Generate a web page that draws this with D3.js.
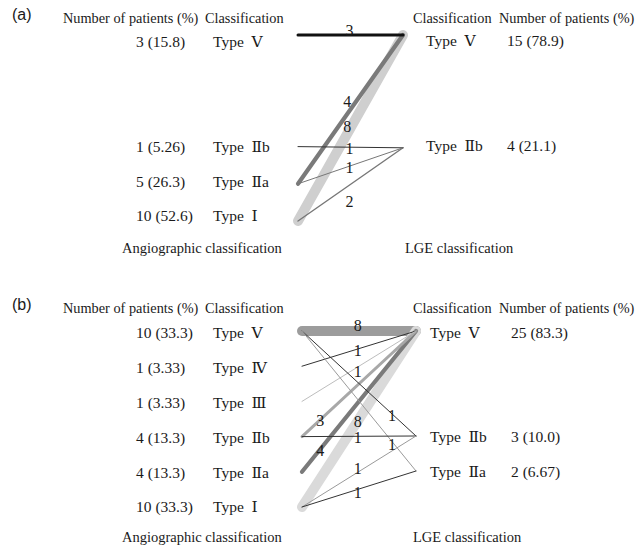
<!DOCTYPE html>
<html>
<head>
<meta charset="utf-8">
<script src="https://cdn.jsdelivr.net/npm/d3@7"></script>
<style>
  html, body { margin: 0; padding: 0; background: #fff; }
  svg { display: block; }
  .serif { font-family: "Liberation Serif", "Times New Roman", "DejaVu Serif", serif; fill: #1a1a1a; }
  .sans { font-family: "Liberation Sans", Arial, sans-serif; fill: #1a1a1a; }
</style>
</head>
<body>
<svg id="chart" width="639" height="548"></svg>
<script>
// Row order shared by both classifications
const typeOrder = ["Ⅴ", "Ⅳ", "Ⅲ", "Ⅱb", "Ⅱa", "Ⅰ"];

// Panel (a): angiographic → LGE
const leftTypesA = ["Ⅴ", "Ⅱb", "Ⅱa", "Ⅰ"];
const leftCountsA = [3, 1, 5, 10];
const leftPctA = [15.8, 5.26, 26.3, 52.6];
const rightTypesA = ["Ⅴ", "Ⅱb"];
const rightCountsA = [15, 4];
const rightPctA = [78.9, 21.1];
const flowFromA = ["Ⅴ", "Ⅱa", "Ⅰ", "Ⅱb", "Ⅱa", "Ⅰ"];
const flowToA   = ["Ⅴ", "Ⅴ", "Ⅴ", "Ⅱb", "Ⅱb", "Ⅱb"];
const flowCountA = [3, 4, 8, 1, 1, 2];

// Panel (b): angiographic → LGE
const leftTypesB = ["Ⅴ", "Ⅳ", "Ⅲ", "Ⅱb", "Ⅱa", "Ⅰ"];
const leftCountsB = [10, 1, 1, 4, 4, 10];
const leftPctB = [33.3, 3.33, 3.33, 13.3, 13.3, 33.3];
const rightTypesB = ["Ⅴ", "Ⅱb", "Ⅱa"];
const rightCountsB = [25, 3, 2];
const rightPctB = [83.3, 10.0, 6.67];
const flowFromB = ["Ⅴ", "Ⅳ", "Ⅲ", "Ⅱb", "Ⅱa", "Ⅰ", "Ⅴ", "Ⅴ", "Ⅱb", "Ⅰ", "Ⅰ"];
const flowToB   = ["Ⅴ", "Ⅴ", "Ⅴ", "Ⅴ", "Ⅴ", "Ⅴ", "Ⅱb", "Ⅱa", "Ⅱb", "Ⅱb", "Ⅱa"];
const flowCountB = [8, 1, 1, 3, 4, 8, 1, 1, 1, 1, 1];

// Line styling, one entry per flow
const flowColorA = ["#111", "#7a7a7a", "#cfcfcf", "#333", "#777", "#777"];
const flowColorB = ["#9c9c9c", "#333", "#bdbdbd", "#a8a8a8", "#7a7a7a", "#dadada", "#333", "#9a9a9a", "#333", "#9a9a9a", "#333"];
// Label placement along each line: fraction of the way across, vertical nudge
const labelPosA = [[0.49, -5], [0.47, -12], [0.47, -7], [0.49, 1], [0.49, 1], [0.49, 16]];
const labelPosB = [[0.49, -6], [0.49, 1], [0.49, 4], [0.16, 1], [0.16, 1], [0.49, 1], [0.79, 1], [0.79, 3], [0.49, 1], [0.49, -4], [0.49, 3]];

const fmtPct = d3.format(".3r");
const widthScale = d3.scaleLinear().domain([1, 2, 3, 4, 8]).range([1, 1.4, 3, 4.2, 10]);

const svg = d3.select("#chart");
const FS = 15.5;   // row text
const HS = 14.3;   // column headers

function drawPanel(p) {
  const g = svg.append("g");
  const lineY = d3.scalePoint().domain(typeOrder).range(p.lineRange);
  const textY = d3.scalePoint().domain(typeOrder).range(p.textRange);
  const rightLineY = d3.scalePoint().domain(typeOrder).range(p.rightLineRange);
  const rightTextY = d3.scalePoint().domain(typeOrder).range(p.rightTextRange);
  const x = d3.scaleLinear().domain([0, 1]).range([p.x0, p.x1]);

  // panel tag
  g.append("text").attr("class", "sans").attr("x", 12).attr("y", p.headY - 3)
    .attr("font-size", 16).text(p.tag);

  // headers
  const hdr = g.append("g").attr("class", "serif").attr("font-size", HS);
  hdr.append("text").attr("x", 63).attr("y", p.headY).text("Number of patients (%)");
  hdr.append("text").attr("x", 205).attr("y", p.headY).text("Classification");
  hdr.append("text").attr("x", 413).attr("y", p.headY).text("Classification");
  hdr.append("text").attr("x", 499).attr("y", p.headY).text("Number of patients (%)");

  // left nodes
  const left = g.append("g").attr("class", "serif").attr("font-size", FS);
  p.leftTypes.forEach((t, i) => {
    left.append("text").attr("x", 136).attr("y", textY(t)).attr("dy", "0.35em")
      .text(`${p.leftCounts[i]} (${fmtPct(p.leftPct[i])})`);
    left.append("text").attr("x", 213).attr("y", textY(t)).attr("dy", "0.35em")
      .attr("xml:space", "preserve").text(`Type  ${t}`);
  });

  // right nodes
  const right = g.append("g").attr("class", "serif").attr("font-size", FS);
  p.rightTypes.forEach((t, i) => {
    right.append("text").attr("x", p.rightTypeX).attr("y", rightTextY(t)).attr("dy", "0.35em")
      .attr("xml:space", "preserve").text(`Type  ${t}`);
    right.append("text").attr("x", p.rightNumX).attr("y", rightTextY(t)).attr("dy", "0.35em")
      .text(`${p.rightCounts[i]} (${fmtPct(p.rightPct[i])})`);
  });

  // flows, widest first so thin lines stay visible on top
  const flows = p.from.map((f, i) => ({
    from: f, to: p.to[i], n: p.count[i], color: p.colors[i], lab: p.labelPos[i]
  }));
  const order = d3.range(flows.length).sort((a, b) => d3.descending(flows[a].n, flows[b].n) || a - b);
  const lines = g.append("g");
  order.forEach(i => {
    const d = flows[i];
    lines.append("line")
      .attr("x1", x(0)).attr("y1", lineY(d.from))
      .attr("x2", x(1)).attr("y2", rightLineY(d.to))
      .attr("stroke", d.color)
      .attr("stroke-width", widthScale(d.n))
      .attr("stroke-linecap", "round");
  });

  // flow counts
  const labs = g.append("g").attr("class", "serif").attr("font-size", 16).attr("text-anchor", "middle");
  flows.forEach(d => {
    const t = d.lab[0];
    const y1 = lineY(d.from), y2 = rightLineY(d.to);
    labs.append("text")
      .attr("x", x(t))
      .attr("y", y1 + (y2 - y1) * t + d.lab[1])
      .attr("dy", "0.35em")
      .text(d.n);
  });

  // axis captions
  const cap = g.append("g").attr("class", "serif").attr("font-size", 14.5);
  cap.append("text").attr("x", 122).attr("y", p.capY).attr("dy", "0.35em").text("Angiographic classification");
  cap.append("text").attr("x", p.lgeX).attr("y", p.capY).attr("dy", "0.35em").text("LGE classification");
}

drawPanel({
  tag: "(a)", headY: 23,
  leftTypes: leftTypesA, leftCounts: leftCountsA, leftPct: leftPctA,
  rightTypes: rightTypesA, rightCounts: rightCountsA, rightPct: rightPctA,
  from: flowFromA, to: flowToA, count: flowCountA, colors: flowColorA, labelPos: labelPosA,
  x0: 298, x1: 403,
  lineRange: [35, 221], textRange: [42, 216],
  rightLineRange: [35, 223], rightTextRange: [41, 215],
  rightTypeX: 426, rightNumX: 507,
  capY: 248, lgeX: 405
});

drawPanel({
  tag: "(b)", headY: 313,
  leftTypes: leftTypesB, leftCounts: leftCountsB, leftPct: leftPctB,
  rightTypes: rightTypesB, rightCounts: rightCountsB, rightPct: rightPctB,
  from: flowFromB, to: flowToB, count: flowCountB, colors: flowColorB, labelPos: labelPosB,
  x0: 302, x1: 416,
  lineRange: [331, 507], textRange: [333, 507],
  rightLineRange: [331, 506], rightTextRange: [333, 506],
  rightTypeX: 430, rightNumX: 511,
  capY: 537, lgeX: 413
});
</script>
</body>
</html>
